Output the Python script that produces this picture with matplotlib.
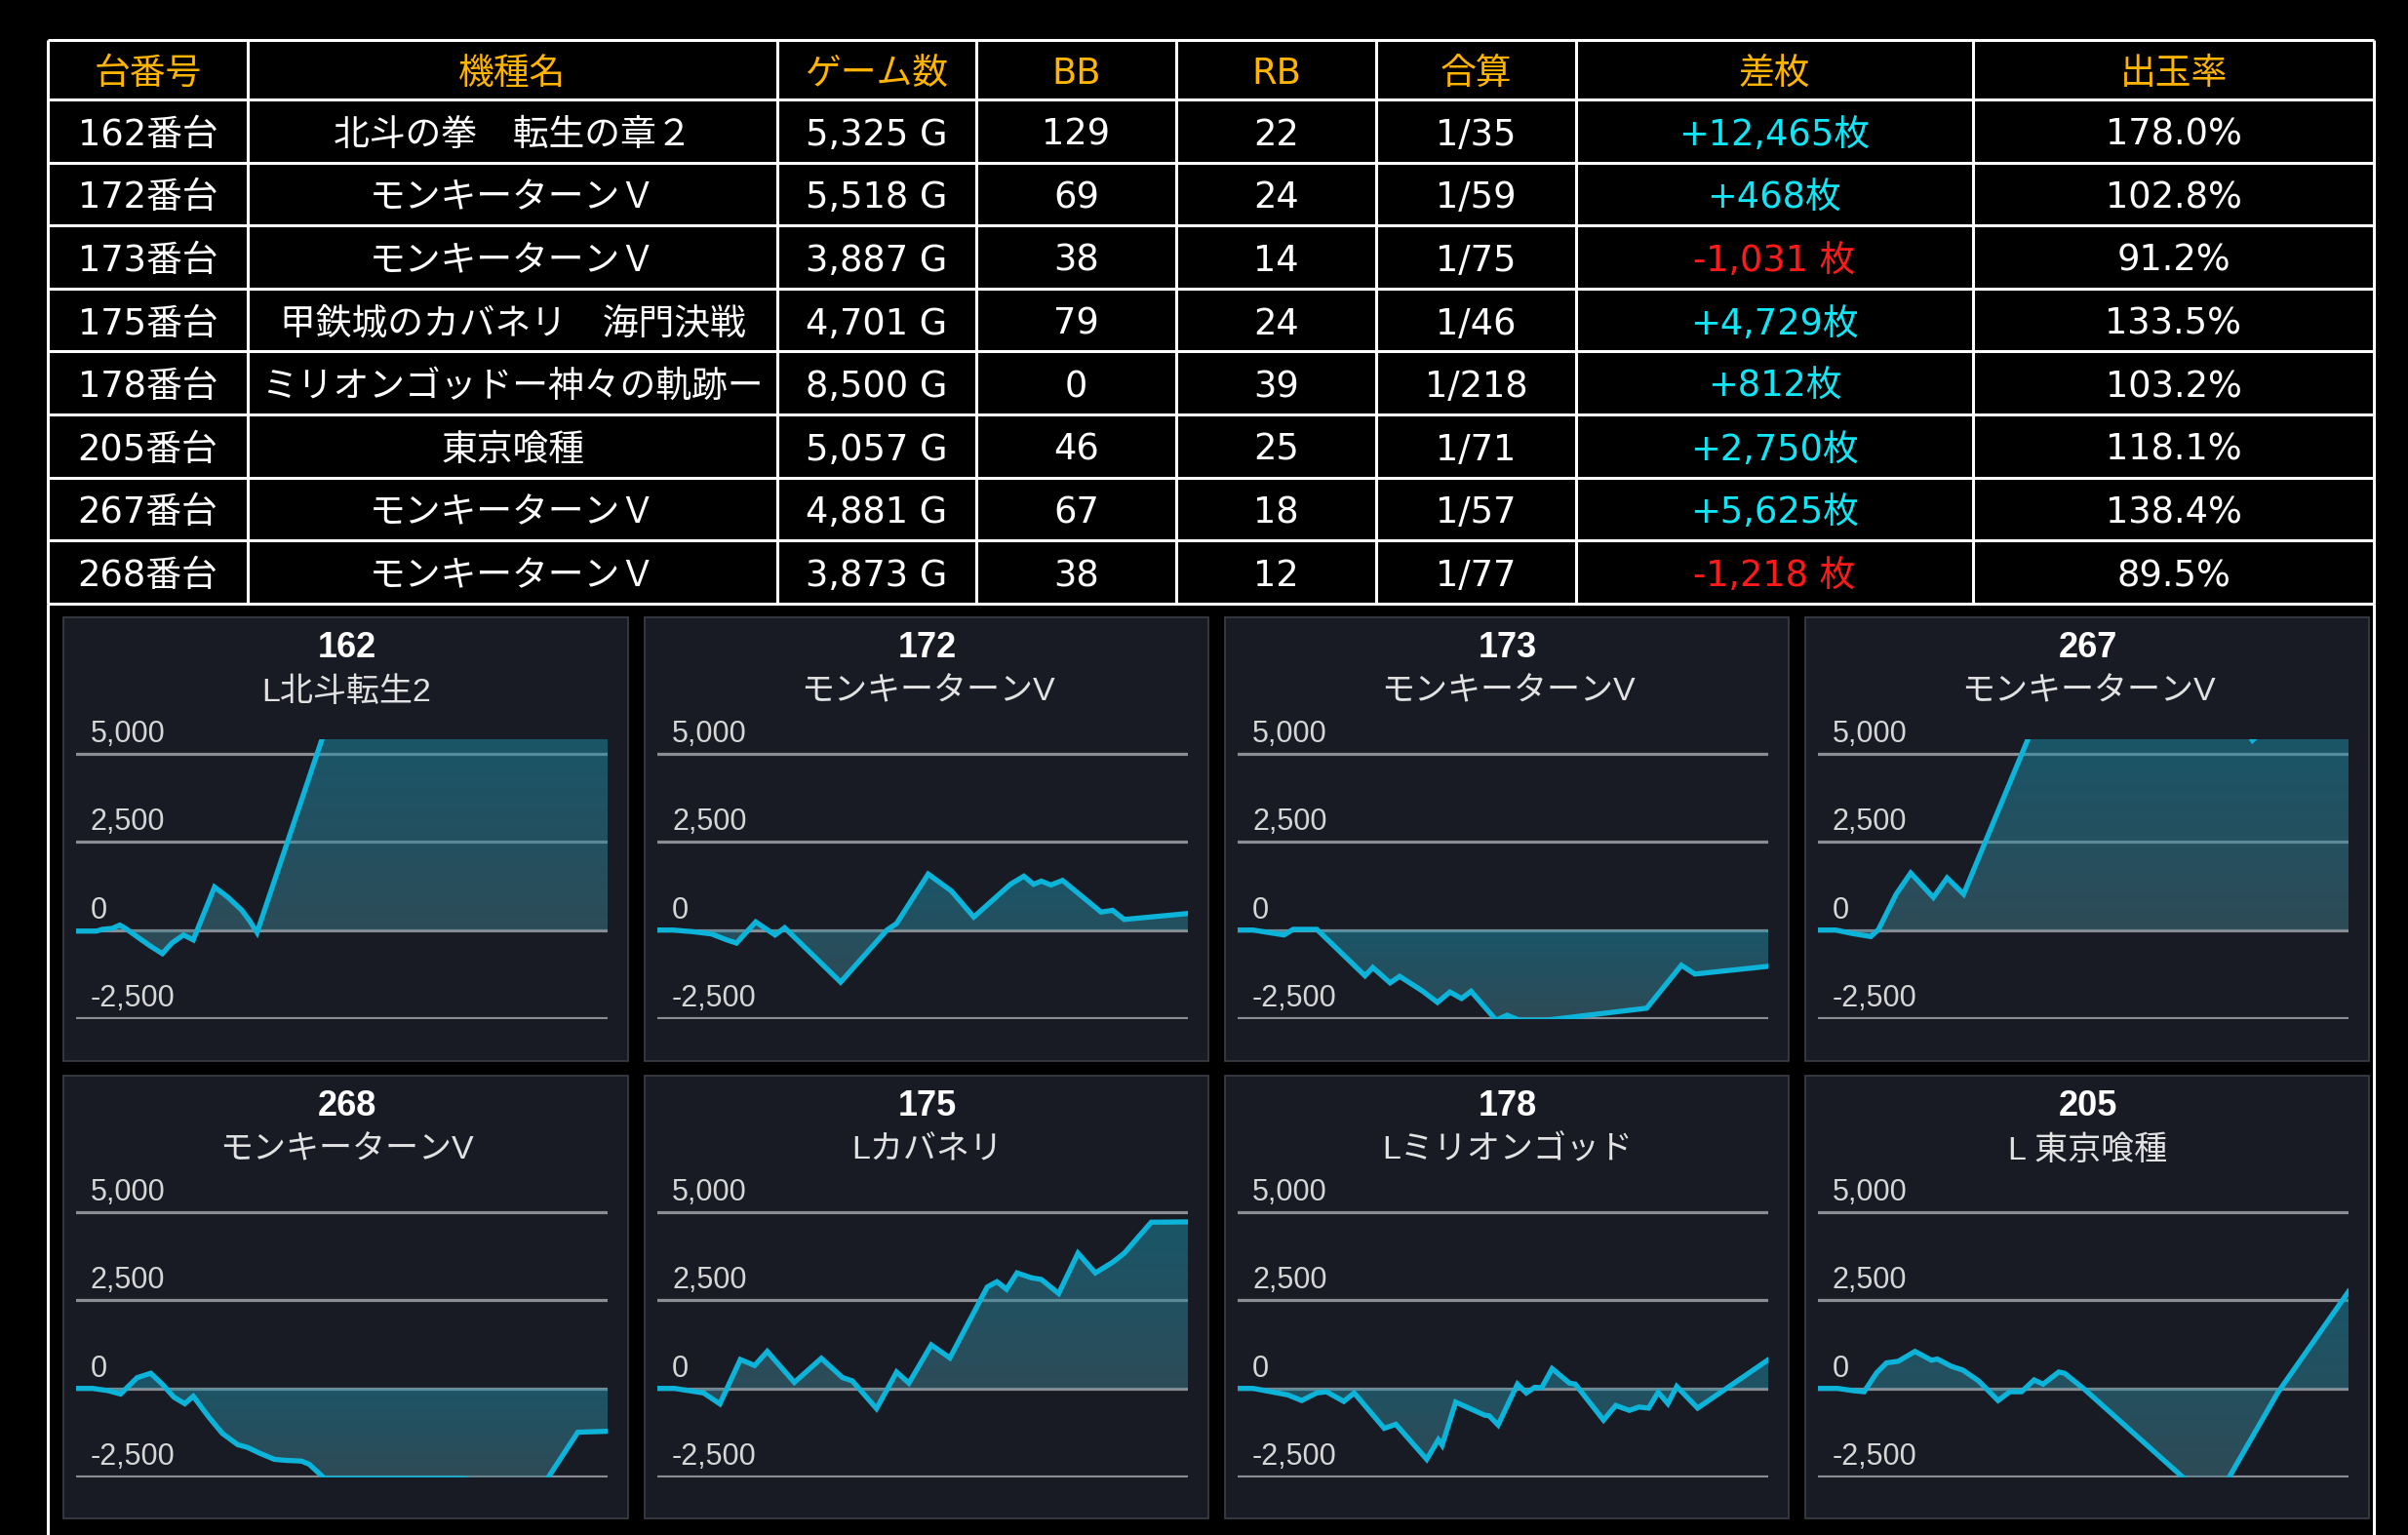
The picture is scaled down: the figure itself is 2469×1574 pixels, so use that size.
import matplotlib
matplotlib.use('Agg')
import matplotlib.pyplot as plt
import numpy as np
import matplotlib.transforms as mtransforms
from matplotlib.colors import LinearSegmentedColormap
from matplotlib.patches import Rectangle

# ---------------- data ----------------
headers = ['台番号', '機種名', 'ゲーム数', 'BB', 'RB', '合算', '差枚', '出玉率']
machine_no = ['162番台', '172番台', '173番台', '175番台', '178番台', '205番台', '267番台', '268番台']
machine_name = ['北斗の拳　転生の章２', 'モンキーターンＶ', 'モンキーターンＶ', '甲鉄城のカバネリ　海門決戦',
                'ミリオンゴッドー神々の軌跡ー', '東京喰種', 'モンキーターンＶ', 'モンキーターンＶ']
games = [5325, 5518, 3887, 4701, 8500, 5057, 4881, 3873]
bb = [129, 69, 38, 79, 0, 46, 67, 38]
rb = [22, 24, 14, 24, 39, 25, 18, 12]
combined = ['1/35', '1/59', '1/75', '1/46', '1/218', '1/71', '1/57', '1/77']
diff = [12465, 468, -1031, 4729, 812, 2750, 5625, -1218]
payout = [178.0, 102.8, 91.2, 133.5, 103.2, 118.1, 138.4, 89.5]

# slump graphs (x = games played, y = coin difference)
x162 = [0, 205, 263, 360, 438, 496, 631, 747, 864, 960, 1077, 1174, 1387, 1522, 1658, 1735, 1813, 2568, 3500, 4270, 5325]
y162 = [-30, -30, 20, 45, 140, 45, -230, -460, -670, -370, -140, -280, 1220, 930, 570, 280, -70, 6300, 8800, 10900, 12465]
x172 = [0, 161, 361, 562, 722, 823, 1023, 1224, 1324, 1906, 2388, 2488, 2817, 3058, 3291, 3672, 3812, 3913, 3993, 4093, 4214, 4615, 4735, 4856, 5518]
y172 = [0, 0, -45, -110, -280, -370, 230, -140, 65, -1480, 0, 185, 1590, 1110, 370, 1300, 1530, 1300, 1390, 1280, 1410, 510, 560, 300, 470]
x173 = [0, 113, 339, 407, 580, 933, 990, 1117, 1187, 1357, 1464, 1555, 1640, 1710, 1894, 1974, 2064, 2262, 2997, 3251, 3350, 3887]
y173 = [0, 0, -140, 20, 20, -1300, -1065, -1500, -1315, -1740, -2055, -1760, -1945, -1740, -2560, -2420, -2560, -2560, -2220, -1000, -1250, -1030]
x267 = [0, 162, 310, 486, 558, 720, 853, 1062, 1188, 1340, 2050, 3746, 3998, 4214, 4881]
y267 = [0, 0, -95, -185, 20, 1020, 1620, 925, 1480, 1020, 6300, 6600, 5390, 6000, 5625]
x268 = [0, 121, 234, 324, 445, 544, 628, 713, 792, 854, 966, 1065, 1178, 1248, 1332, 1445, 1530, 1642, 1699, 1811, 2825, 3361, 3656, 3873]
y268 = [0, 0, -65, -160, 305, 430, 120, -250, -435, -225, -810, -1275, -1600, -1675, -1830, -2015, -2045, -2065, -2155, -2560, -2560, -3000, -1245, -1218]
x175 = [0, 154, 239, 410, 554, 735, 862, 974, 1214, 1453, 1641, 1727, 1942, 2120, 2229, 2427, 2592, 2923, 3009, 3094, 3187, 3316, 3402, 3556, 3727, 3881, 4035, 4137, 4376, 4701]
y175 = [0, 0, -45, -130, -440, 820, 650, 1050, 170, 855, 305, 215, -575, 465, 150, 1235, 865, 2880, 3030, 2815, 3280, 3140, 3095, 2695, 3840, 3280, 3585, 3840, 4720, 4729]
x178 = [0, 247, 804, 1026, 1267, 1422, 1700, 1867, 2349, 2535, 3029, 3215, 3276, 3493, 3956, 4030, 4173, 4482, 4624, 4760, 4871, 5038, 5316, 5409, 5861, 6058, 6275, 6429, 6584, 6738, 6893, 7035, 7369, 8500]
y178 = [0, 0, -185, -345, -130, -95, -370, -130, -1135, -1020, -2015, -1460, -1615, -390, -760, -780, -1040, 120, -130, 30, 20, 560, 150, 120, -900, -485, -625, -530, -560, -110, -435, 55, -560, 812]
x205 = [0, 187, 336, 440, 560, 653, 765, 925, 1082, 1138, 1269, 1381, 1530, 1717, 1829, 1941, 2060, 2146, 2295, 2351, 2538, 3769, 4385, 5057]
y205 = [0, 0, -65, -95, 445, 725, 770, 1050, 800, 835, 630, 520, 215, -345, -95, -95, 240, 120, 465, 430, -20, -3300, -110, 2750]

chart_ids = ['162', '172', '173', '267', '268', '175', '178', '205']
chart_names = ['L北斗転生2', 'モンキーターンV', 'モンキーターンV', 'モンキーターンV',
               'モンキーターンV', 'Lカバネリ', 'Lミリオンゴッド', 'L 東京喰種']
chart_x = [x162, x172, x173, x267, x268, x175, x178, x205]
chart_y = [y162, y172, y173, y267, y268, y175, y178, y205]
ytick_vals = [5000, 2500, 0, -2500]
ytick_labels = ['5,000', '2,500', '0', '-2,500']

# ---------------- layout / style ----------------
W, H, DPI = 2469, 1574, 100
fig = plt.figure(figsize=(W / DPI, H / DPI), dpi=DPI, facecolor='black')
bg = fig.add_axes([0, 0, 1, 1])
bg.set_xlim(0, W)
bg.set_ylim(H, 0)
bg.axis('off')
bg.set_facecolor('black')

TABLE_FONT = ['DejaVu Sans', 'Noto Sans CJK JP']
CHART_FONT = ['Liberation Sans', 'Noto Sans CJK JP']
HEAD_C = '#ffb400'
POS_C = '#10e6f5'
NEG_C = '#ff1a1a'

col_edges = [49, 254, 797, 1001, 1206, 1411, 1616, 2023, 2434]
row_edges = [41, 102] + [102 + 64.6 * (i + 1) for i in range(8)]
lw_tab = 2.2

for yy in row_edges:
    bg.plot([col_edges[0], col_edges[-1]], [yy, yy], color='white', lw=lw_tab, solid_capstyle='butt')
for xx in col_edges:
    bg.plot([xx, xx], [row_edges[0], row_edges[-1]], color='white', lw=lw_tab, solid_capstyle='butt')
for xx in (col_edges[0], col_edges[-1]):
    bg.plot([xx, xx], [row_edges[-1], H], color='white', lw=lw_tab, solid_capstyle='butt')

def cx(i):
    return (col_edges[i] + col_edges[i + 1]) / 2

def cy(r):
    return (row_edges[r] + row_edges[r + 1]) / 2 + 4

FS = 26.5
for i, h in enumerate(headers):
    bg.text(cx(i), cy(0), h, color=HEAD_C, fontsize=FS, ha='center', va='center', family=TABLE_FONT)

for r in range(len(machine_no)):
    yc = cy(r + 1)
    d = diff[r]
    dtxt = f'+{d:,}枚' if d >= 0 else f'{d:,} 枚'
    cells = [machine_no[r], machine_name[r], f'{games[r]:,} G', str(bb[r]), str(rb[r]),
             combined[r], dtxt, f'{payout[r]:.1f}%']
    colors = ['white'] * 8
    colors[6] = POS_C if d >= 0 else NEG_C
    for i, t in enumerate(cells):
        bg.text(cx(i), yc, t, color=colors[i], fontsize=FS, ha='center', va='center', family=TABLE_FONT)

# panels
panel_cols = [(65, 644), (661, 1239), (1256, 1834), (1851, 2429)]
panel_rows = [(633, 1088), (1103, 1557)]
YMIN, YMAX = -2530, 5420
cmap = LinearSegmentedColormap.from_list('fill', ['#1c91ac', '#467b8a'])

for k in range(8):
    r, c = divmod(k, 4)
    pl, pr = panel_cols[c]
    pt, pb = panel_rows[r]
    bg.add_patch(Rectangle((pl, pt), pr - pl, pb - pt, facecolor='#181b24', edgecolor='#3c3f47', lw=1.2, zorder=0))
    bg.text((pl + pr) / 2 + 1, pt + 32, chart_ids[k], color='white', fontsize=26, fontweight='bold',
            ha='center', va='center', family=CHART_FONT)
    bg.text((pl + pr) / 2 + 1, pt + 77, chart_names[k], color='#e2e2e2', fontsize=24.5,
            ha='center', va='center', family=CHART_FONT)

    l, rr = pl + 13, pr - 21
    t, b = pt + 125, pt + 412
    ax = fig.add_axes([l / W, 1 - b / H, (rr - l) / W, (b - t) / H])
    ax.set_facecolor('none')
    ax.axis('off')
    xs = np.array(chart_x[k], dtype=float)
    ys = np.array(chart_y[k], dtype=float)

    for v in ytick_vals:
        ax.axhline(v, color='#8a8d93', lw=2.3, zorder=1)
    trans = mtransforms.blended_transform_factory(ax.transAxes, ax.transData)
    trans = mtransforms.offset_copy(trans, fig=fig, x=15, y=20, units='dots')
    for v, lab in zip(ytick_vals, ytick_labels):
        ax.text(0, v, lab, transform=trans, color='#d6d6d6', fontsize=22, ha='left', va='center',
                family=CHART_FONT, clip_on=False)

    poly = ax.fill_between(xs, ys, 0, facecolor='none', edgecolor='none', lw=0)
    gtop = min(max(ys.max(), 0), YMAX)
    gbot = max(min(ys.min(), 0), YMIN)
    grad = np.linspace(0, 1, 256).reshape(-1, 1)
    im = ax.imshow(grad, extent=[xs.min(), xs.max(), gbot, gtop], aspect='auto', cmap=cmap,
                   origin='upper', alpha=0.5, zorder=2, interpolation='bilinear')
    im.set_clip_path(poly.get_paths()[0], transform=ax.transData)
    ax.plot(xs, ys, color='#0db4da', lw=3.8, zorder=3, solid_joinstyle='miter')
    ax.set_xlim(xs.min(), xs.max())
    ax.set_ylim(YMIN, YMAX)

fig.savefig('out.png', dpi=DPI, facecolor='black')
